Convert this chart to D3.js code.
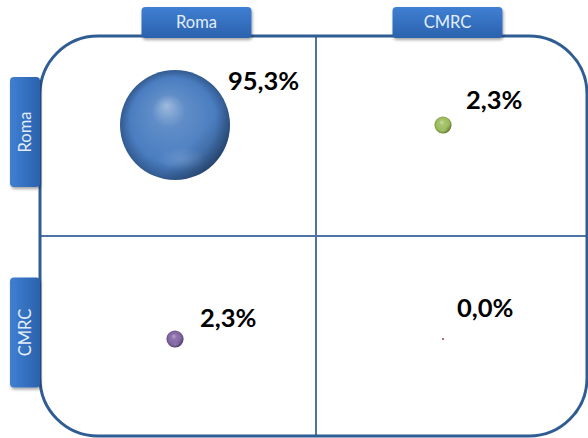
<!DOCTYPE html>
<html>
<head>
<meta charset="utf-8">
<script src="https://cdn.jsdelivr.net/npm/d3@7"></script>
<style>
  html, body { margin: 0; padding: 0; background: #ffffff; }
  svg { display: block; }
</style>
</head>
<body>
<script>
// Categories on each axis (columns across the top, rows down the left side)
const columnCategories = ["Roma", "CMRC"];
const rowCategories = ["Roma", "CMRC"];

// Share of flows (%) for each row/column pair
const flowShareRoma = [95.3, 2.3];   // row "Roma": to Roma, to CMRC
const flowShareCMRC = [2.3, 0.0];    // row "CMRC": to Roma, to CMRC

// Bubble colour per cell, row by row
const bubbleColorRoma = ["#4a7dc0", "#9bbb59"];
const bubbleColorCMRC = ["#8064a2", "#a0504d"];

const W = 588, H = 438;

// Layout of the framed quadrant grid
const frame = { x0: 40, y0: 36, x1: 587, y1: 436, r: 58 };
const divider = { x: 316, y: 236 };

// Label nudges (left edge / baseline relative to the bubble centre)
const labelNudge = [[[53, -35], [23, -16]], [[25, -12], [14, -22]]];

const svg = d3.select("body").append("svg")
  .attr("width", W).attr("height", H);

const defs = svg.append("defs");

// Soft drop shadow for the header tabs
const shadow = defs.append("filter").attr("id", "tabShadow")
  .attr("x", "-20%").attr("y", "-20%").attr("width", "140%").attr("height", "160%");
shadow.append("feDropShadow")
  .attr("dx", 1).attr("dy", 2).attr("stdDeviation", 1.6)
  .attr("flood-color", "#000").attr("flood-opacity", 0.35);

// Tab fill gradient
const tabGrad = defs.append("linearGradient").attr("id", "tabGrad")
  .attr("x1", 0).attr("y1", 0).attr("x2", 0).attr("y2", 1);
tabGrad.append("stop").attr("offset", "0%").attr("stop-color", "#3f7fd3");
tabGrad.append("stop").attr("offset", "100%").attr("stop-color", "#2b62ad");

const tabGradV = defs.append("linearGradient").attr("id", "tabGradV")
  .attr("x1", 0).attr("y1", 0).attr("x2", 1).attr("y2", 0);
tabGradV.append("stop").attr("offset", "0%").attr("stop-color", "#3f7fd3");
tabGradV.append("stop").attr("offset", "100%").attr("stop-color", "#2b62ad");

// Spherical shading for each bubble colour
function sphereGradient(id, base) {
  const c = d3.hsl(base);
  const g = defs.append("radialGradient").attr("id", id)
    .attr("cx", "50%").attr("cy", "50%").attr("r", "50%")
    .attr("fx", "42%").attr("fy", "32%");
  g.append("stop").attr("offset", "0%").attr("stop-color", c.brighter(1.0).formatHex());
  g.append("stop").attr("offset", "30%").attr("stop-color", c.brighter(0.3).formatHex());
  g.append("stop").attr("offset", "78%").attr("stop-color", c.formatHex());
  g.append("stop").attr("offset", "100%").attr("stop-color", c.darker(0.9).formatHex());
}
const shade = defs.append("linearGradient").attr("id", "sphereShade")
  .attr("x1", 0.2).attr("y1", 0.2).attr("x2", 1).attr("y2", 0.9);
shade.append("stop").attr("offset", "0%").attr("stop-color", "#ffffff").attr("stop-opacity", 0.0);
shade.append("stop").attr("offset", "60%").attr("stop-color", "#000000").attr("stop-opacity", 0.0);
shade.append("stop").attr("offset", "100%").attr("stop-color", "#000000").attr("stop-opacity", 0.35);

const reflect = defs.append("radialGradient").attr("id", "sphereReflect")
  .attr("cx", "50%").attr("cy", "50%").attr("r", "50%");
reflect.append("stop").attr("offset", "0%").attr("stop-color", "#ffffff").attr("stop-opacity", 0.14);
reflect.append("stop").attr("offset", "100%").attr("stop-color", "#ffffff").attr("stop-opacity", 0);

// Cell table built from the named arrays
const shareRows = [flowShareRoma, flowShareCMRC];
const colorRows = [bubbleColorRoma, bubbleColorCMRC];
const cells = [];
rowCategories.forEach((row, i) => {
  columnCategories.forEach((col, j) => {
    cells.push({ row, col, value: shareRows[i][j], color: colorRows[i][j],
                 nudge: labelNudge[i][j], id: "sph" + i + j });
  });
});
cells.forEach(d => sphereGradient(d.id, d.color));

// Scales
const x = d3.scalePoint().domain(columnCategories).range([175, 443]);
const y = d3.scalePoint().domain(rowCategories).range([125, 339]);
const maxShare = d3.max(cells, d => d.value);
const r = d3.scaleSqrt().domain([0, maxShare]).range([0, 55]);
const radius = v => Math.max(1.1, r(v));

// Header tab positions
const xTab = d3.scalePoint().domain(columnCategories).range([196.5, 447.5]);
const yTab = d3.scalePoint().domain(rowCategories).range([132, 332.5]);

// Frame and dividers
const frameColor = "#2f5d93";
const gridColor = "#4e74a5";
svg.append("line")
  .attr("x1", divider.x).attr("x2", divider.x)
  .attr("y1", frame.y0).attr("y2", frame.y1)
  .attr("stroke", gridColor).attr("stroke-width", 2);
svg.append("line")
  .attr("x1", frame.x0).attr("x2", frame.x1)
  .attr("y1", divider.y).attr("y2", divider.y)
  .attr("stroke", gridColor).attr("stroke-width", 2);
svg.append("rect")
  .attr("x", frame.x0).attr("y", frame.y0)
  .attr("width", frame.x1 - frame.x0).attr("height", frame.y1 - frame.y0)
  .attr("rx", frame.r).attr("ry", frame.r)
  .attr("fill", "none").attr("stroke", frameColor).attr("stroke-width", 3);

// Column tabs
const tabFont = "Lato, 'Open Sans', sans-serif";
const colTabs = svg.append("g").selectAll("g").data(columnCategories).join("g")
  .attr("transform", d => `translate(${xTab(d)},22.5)`);
colTabs.append("rect")
  .attr("x", -55).attr("y", -15.5).attr("width", 110).attr("height", 31)
  .attr("rx", 4).attr("fill", "url(#tabGrad)").attr("filter", "url(#tabShadow)");
colTabs.append("text")
  .attr("text-anchor", "middle").attr("dy", "0.36em")
  .attr("fill", "#e3eefa").attr("font-family", tabFont).attr("font-size", 16.5)
  .text(d => d);

// Row tabs
const rowTabs = svg.append("g").selectAll("g").data(rowCategories).join("g")
  .attr("transform", d => `translate(25,${yTab(d)})`);
rowTabs.append("rect")
  .attr("x", -15).attr("y", -55).attr("width", 30).attr("height", 110)
  .attr("rx", 4).attr("fill", "url(#tabGradV)").attr("filter", "url(#tabShadow)");
rowTabs.append("text")
  .attr("transform", "rotate(-90)")
  .attr("text-anchor", "middle").attr("dy", "0.36em")
  .attr("fill", "#e3eefa").attr("font-family", tabFont).attr("font-size", 16.5)
  .text(d => d);

// Bubbles
const bubbles = svg.append("g").selectAll("g").data(cells).join("g")
  .attr("transform", d => `translate(${x(d.col)},${y(d.row)})`);
bubbles.append("circle")
  .attr("r", d => radius(d.value))
  .attr("fill", d => d.value > 0 ? `url(#${d.id})` : d.color);
bubbles.filter(d => r(d.value) > 3).append("circle")
  .attr("r", d => radius(d.value))
  .attr("fill", "url(#sphereShade)");
bubbles.filter(d => r(d.value) > 3).append("ellipse")
  .attr("cx", d => radius(d.value) * 0.12)
  .attr("cy", d => radius(d.value) * 0.62)
  .attr("rx", d => radius(d.value) * 0.45)
  .attr("ry", d => radius(d.value) * 0.22)
  .attr("fill", "url(#sphereReflect)");

// Value labels
const fmt = v => d3.format(".1f")(v).replace(".", ",") + "%";
bubbles.append("text")
  .attr("x", d => d.nudge[0]).attr("y", d => d.nudge[1])
  .attr("font-family", "Lato, 'Open Sans', sans-serif")
  .attr("font-weight", 700).attr("font-size", 25.5)
  .attr("fill", "#000")
  .text(d => fmt(d.value));
</script>
</body>
</html>
